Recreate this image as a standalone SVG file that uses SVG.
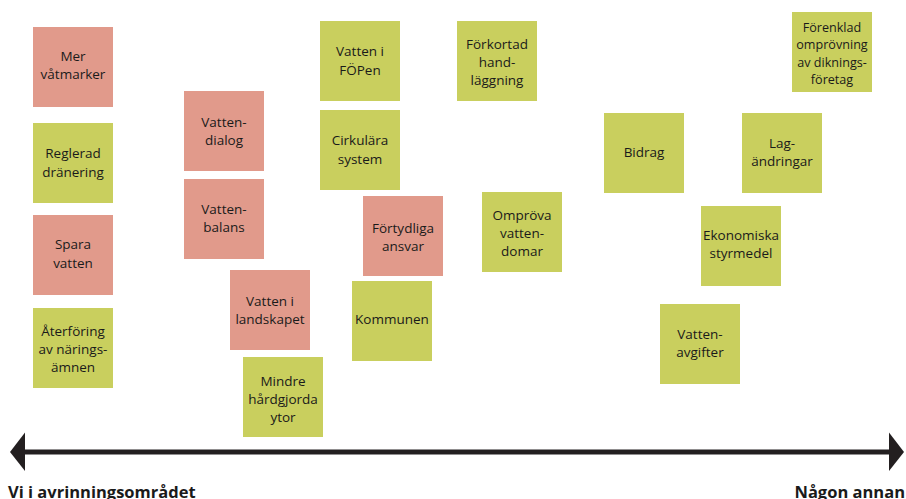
<svg xmlns="http://www.w3.org/2000/svg" width="906" height="499" viewBox="0 0 906 499">
  <style>
    .note { stroke: none; }
    .red { fill: #E19A8B; }
    .green { fill: #C9CF5E; }
    .lbl { font-family: "Open Sans", "Noto Sans", "Liberation Sans", sans-serif; font-size: 13.5px; fill: #1a1a1a; text-anchor: middle; }
    .small { font-size: 12.6px; }
    .axis { font-family: "Open Sans", "Noto Sans", "Liberation Sans", sans-serif; font-size: 16.5px; font-weight: bold; fill: #1a1a1a; }
  </style>
  <rect width="906" height="499" fill="#ffffff"/>

  <!-- left column -->
  <g id="mer-vatmarker">
    <rect class="note red" x="33" y="27" width="80" height="80"/>
    <text class="lbl" x="73"><tspan x="73" y="61">Mer</tspan><tspan x="73" y="79">våtmarker</tspan></text>
  </g>
  <g id="reglerad-dranering">
    <rect class="note green" x="33" y="123" width="80" height="80"/>
    <text class="lbl"><tspan x="73" y="158">Reglerad</tspan><tspan x="73" y="177">dränering</tspan></text>
  </g>
  <g id="spara-vatten">
    <rect class="note red" x="33" y="215" width="80" height="80"/>
    <text class="lbl"><tspan x="73" y="249">Spara</tspan><tspan x="73" y="268">vatten</tspan></text>
  </g>
  <g id="aterforing">
    <rect class="note green" x="33" y="308" width="80" height="80"/>
    <text class="lbl"><tspan x="73" y="336">Återföring</tspan><tspan x="73" y="354">av närings-</tspan><tspan x="73" y="372">ämnen</tspan></text>
  </g>

  <!-- second column -->
  <g id="vattendialog">
    <rect class="note red" x="184" y="91" width="80" height="80"/>
    <text class="lbl"><tspan x="224" y="127">Vatten-</tspan><tspan x="224" y="145">dialog</tspan></text>
  </g>
  <g id="vattenbalans">
    <rect class="note red" x="184" y="179" width="80" height="80"/>
    <text class="lbl"><tspan x="224" y="214">Vatten-</tspan><tspan x="224" y="232">balans</tspan></text>
  </g>
  <g id="vatten-i-landskapet">
    <rect class="note red" x="230" y="270" width="80" height="80"/>
    <text class="lbl"><tspan x="270" y="306">Vatten i</tspan><tspan x="270" y="324">landskapet</tspan></text>
  </g>
  <g id="mindre-hardgjorda-ytor">
    <rect class="note green" x="243" y="357" width="80" height="80"/>
    <text class="lbl"><tspan x="283" y="386">Mindre</tspan><tspan x="283" y="404">hårdgjorda</tspan><tspan x="283" y="422">ytor</tspan></text>
  </g>

  <!-- middle -->
  <g id="vatten-i-fopen">
    <rect class="note green" x="320" y="21" width="80" height="80"/>
    <text class="lbl"><tspan x="360" y="56">Vatten i</tspan><tspan x="360" y="75">FÖPen</tspan></text>
  </g>
  <g id="cirkulara-system">
    <rect class="note green" x="320" y="110" width="80" height="80"/>
    <text class="lbl"><tspan x="360" y="145">Cirkulära</tspan><tspan x="360" y="164">system</tspan></text>
  </g>
  <g id="fortydliga-ansvar">
    <rect class="note red" x="363" y="196" width="80" height="80"/>
    <text class="lbl"><tspan x="403" y="233">Förtydliga</tspan><tspan x="403" y="251">ansvar</tspan></text>
  </g>
  <g id="kommunen">
    <rect class="note green" x="352" y="281" width="80" height="80"/>
    <text class="lbl" x="392" y="324">Kommunen</text>
  </g>
  <g id="forkortad-handlaggning">
    <rect class="note green" x="457" y="21" width="80" height="80"/>
    <text class="lbl"><tspan x="497" y="49">Förkortad</tspan><tspan x="497" y="67">hand-</tspan><tspan x="497" y="85">läggning</tspan></text>
  </g>
  <g id="omprova-vattendomar">
    <rect class="note green" x="482" y="192" width="80" height="80"/>
    <text class="lbl"><tspan x="522" y="220">Ompröva</tspan><tspan x="522" y="238">vatten-</tspan><tspan x="522" y="256">domar</tspan></text>
  </g>

  <!-- right side -->
  <g id="bidrag">
    <rect class="note green" x="604" y="113" width="80" height="80"/>
    <text class="lbl" x="644" y="157">Bidrag</text>
  </g>
  <g id="vattenavgifter">
    <rect class="note green" x="660" y="304" width="80" height="80"/>
    <text class="lbl"><tspan x="700" y="339">Vatten-</tspan><tspan x="700" y="357">avgifter</tspan></text>
  </g>
  <g id="ekonomiska-styrmedel">
    <rect class="note green" x="701" y="206" width="80" height="80"/>
    <text class="lbl"><tspan x="741" y="240">Ekonomiska</tspan><tspan x="741" y="258">styrmedel</tspan></text>
  </g>
  <g id="lagandringar">
    <rect class="note green" x="742" y="113" width="80" height="80"/>
    <text class="lbl"><tspan x="782" y="148">Lag-</tspan><tspan x="782" y="166">ändringar</tspan></text>
  </g>
  <g id="forenklad-omprovning">
    <rect class="note green" x="792" y="12" width="80" height="80"/>
    <text class="lbl small"><tspan x="832" y="32">Förenklad</tspan><tspan x="832" y="49">omprövning</tspan><tspan x="832" y="67">av diknings-</tspan><tspan x="832" y="84">företag</tspan></text>
  </g>

  <!-- double-headed axis -->
  <g id="connectors">
    <line x1="24" y1="452" x2="890" y2="452" stroke="#231F20" stroke-width="5"/>
    <polygon points="10,452 25,432.5 25,471" fill="#231F20"/>
    <polygon points="904,452 889,432.5 889,471" fill="#231F20"/>
  </g>

  <text class="axis" x="8" y="498">Vi i avrinningsområdet</text>
  <text class="axis" x="905" y="498" text-anchor="end">Någon annan</text>
</svg>
